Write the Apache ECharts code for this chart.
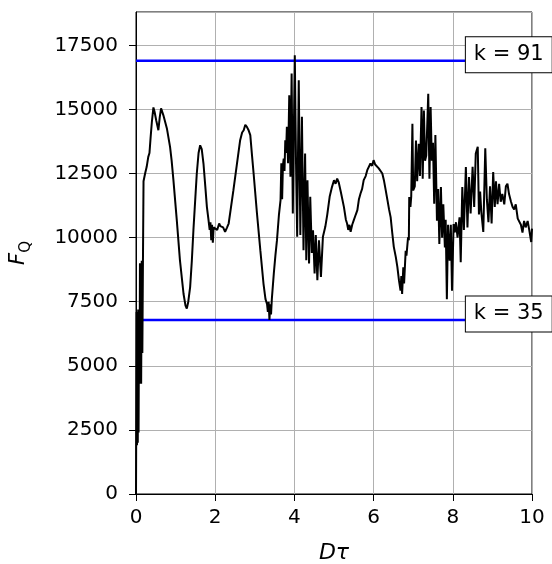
<!DOCTYPE html>
<html><head><meta charset="utf-8">
<script src="https://cdn.jsdelivr.net/npm/echarts@6/dist/echarts.min.js"></script>
<style>html,body{margin:0;padding:0;background:#fff}#c{width:552px;height:564px}</style>
</head><body><div id="c"></div>
<script>
// x ticks / y ticks
const xTickValues = [0, 2, 4, 6, 8, 10];
const yTickValues = [0, 2500, 5000, 7500, 10000, 12500, 15000, 17500];

// F_Q vs D·tau, in segments [tau, F_Q]
const segStart = [[0,0],[0.015,7100],[0.025,1900],[0.035,7000],[0.045,2000],[0.055,7200],[0.065,2400],[0.075,6500],[0.09,4300],[0.10,9000],[0.11,4400],[0.12,8800],[0.13,4300],[0.145,9100],[0.16,5500],[0.175,9000],[0.19,12200]];
const segWave1 = [[0.23,12500],[0.27,12760],[0.31,13150],[0.34,13300],[0.37,13930],[0.40,14500],[0.44,15080],[0.47,14900],[0.51,14580],[0.565,14190],[0.60,14700],[0.633,15040],[0.69,14780],[0.78,14260],[0.86,13540],[0.90,13000],[0.945,12240],[1.03,10680],[1.11,9115],[1.20,7810],[1.25,7350],[1.283,7230],[1.32,7500],[1.367,8070],[1.41,9100],[1.45,10290],[1.535,12500],[1.58,13300],[1.62,13600],[1.66,13450],[1.704,12890],[1.75,12000],[1.79,11200],[1.83,10700],[1.86,10300],[1.88,10600],[1.90,9900],[1.92,10500],[1.94,9800],[1.96,10400],[2.0,10420],[2.05,10300],[2.1,10550],[2.13,10450],[2.2,10400],[2.25,10220],[2.3,10400],[2.34,10550],[2.40,11200],[2.46,11850],[2.55,12890],[2.63,13800],[2.68,14100],[2.72,14190],[2.76,14400],[2.80,14320],[2.84,14200],[2.886,14000],[2.93,13200],[2.97,12500],[3.055,10940],[3.14,9500],[3.22,8200],[3.27,7600],[3.31,7400],[3.33,7100],[3.35,7500],[3.37,6790],[3.39,7400],[3.41,7000],[3.43,7600],[3.48,8600],[3.52,9300],[3.56,9900],[3.61,10900],[3.65,11460]];
const segBurst1 = [[3.67,12900],[3.69,11500],[3.71,12800],[3.73,13080],[3.75,12600],[3.77,13800],[3.79,13300],[3.81,14320],[3.84,12900],[3.87,15550],[3.90,12370],[3.93,16400],[3.96,10940],[4.01,17110],[4.04,13000],[4.07,10030],[4.11,16140],[4.15,10100],[4.19,14710],[4.23,9510],[4.27,13280],[4.30,9120],[4.33,12240],[4.37,8990],[4.40,11590],[4.44,9400],[4.47,10290],[4.51,8600],[4.54,10100],[4.58,8340],[4.62,9900],[4.67,8470],[4.72,10030],[4.78,10420],[4.83,10900],[4.89,11590],[4.95,11980],[5.0,12240],[5.04,12100],[5.08,12300]];
const segWave2 = [[5.12,12150],[5.17,11800],[5.25,11200],[5.30,10700],[5.33,10550],[5.36,10300],[5.39,10500],[5.42,10230],[5.46,10500],[5.50,10680],[5.55,10900],[5.59,11070],[5.63,11500],[5.67,11720],[5.71,11900],[5.75,12240],[5.80,12400],[5.84,12630],[5.88,12700],[5.92,12890],[5.96,12800],[6.0,13020],[6.04,12850],[6.09,12890],[6.13,12700],[6.18,12630],[6.22,12500],[6.26,12240],[6.30,11900],[6.35,11460],[6.39,11100],[6.43,10800],[6.47,10200],[6.51,9640],[6.56,9250],[6.60,8860],[6.64,8340],[6.68,7930],[6.70,8500],[6.72,7800],[6.75,8840],[6.77,8210],[6.81,9490],[6.83,9300],[6.87,10010],[6.89,9900]];
const segBurst2 = [[6.90,11580],[6.93,11200],[6.95,11600],[6.98,14440],[7.00,11840],[7.04,12000],[7.07,13790],[7.10,12200],[7.14,13660],[7.17,12400],[7.21,15090],[7.24,12300],[7.27,14960],[7.30,13000],[7.33,13200],[7.38,15610],[7.41,12300],[7.44,15090],[7.47,13000],[7.50,13700],[7.53,11320],[7.56,14000],[7.60,10660],[7.63,11900],[7.66,9750],[7.70,11970],[7.73,10000],[7.76,11300],[7.80,9620],[7.82,10700],[7.85,7600],[7.88,10500],[7.92,9100],[7.95,10500],[7.98,7930],[8.02,10530],[8.05,10200],[8.08,10600],[8.12,10000],[8.17,10790],[8.20,9040],[8.24,11970],[8.28,10300],[8.33,12750],[8.37,10400],[8.41,12360]];
const segTail = [[8.45,10940],[8.50,12760],[8.54,11200],[8.58,13280],[8.63,13540],[8.66,10900],[8.69,11800],[8.72,11000],[8.77,10220],[8.82,13480],[8.86,11500],[8.90,10600],[8.94,12000],[8.98,10550],[9.02,12560],[9.06,11200],[9.09,12200],[9.13,11300],[9.17,12100],[9.21,11400],[9.25,11700],[9.30,11300],[9.34,12000],[9.38,12100],[9.42,11700],[9.47,11400],[9.51,11200],[9.55,11100],[9.59,11300],[9.64,10740],[9.68,10800],[9.72,10500],[9.76,10200],[9.80,10650],[9.84,10400],[9.89,10650],[9.93,10300],[9.98,9830],[10.0,10350]];

// horizontal reference levels
const kLabels = ['k = 91', 'k = 35'];
const kValues = [16900, 6790];
const kLabelTau = 8.33;

const fq = [].concat(segStart, segWave1, segBurst1, segWave2, segBurst2, segTail);

const FONT = 'DejaVu Sans';
const chart = echarts.init(document.getElementById('c'), null, {renderer: 'canvas'});

const kSeries = kValues.map((v, i) => ({
  type: 'line',
  data: [[xTickValues[0], v], [xTickValues[xTickValues.length - 1], v]],
  symbol: 'none',
  z: 2,
  lineStyle: {color: '#0000ff', width: 2.5},
  silent: true,
  markPoint: {
    symbol: 'rect', symbolSize: 0,
    data: [{coord: [kLabelTau, v], value: kLabels[i]}],
    label: {
      show: true, position: [0, -23.5], formatter: kLabels[i],
      fontFamily: FONT, fontSize: 21, lineHeight: 23, color: '#000',
      backgroundColor: '#fff', borderColor: '#000', borderWidth: 1,
      padding: [6, 8, 6, 8]
    }
  }
}));

chart.setOption({
  animation: false,
  backgroundColor: '#fff',
  grid: {left: 136, right: 20, top: 12, bottom: 70, outerBoundsMode: 'none', containLabel: false,
    show: true, borderColor: '#000', borderWidth: 1, backgroundColor: 'transparent'},
  xAxis: {
    type: 'value', min: 0, max: 10, interval: 2,
    name: 'Dτ', nameLocation: 'middle', nameGap: 48,
    nameTextStyle: {fontFamily: FONT, fontSize: 22, fontStyle: 'italic', color: '#000'},
    axisLine: {show: true, lineStyle: {color: '#000', width: 1}},
    axisTick: {show: true, length: 7, lineStyle: {color: '#000', width: 1}},
    axisLabel: {fontFamily: FONT, fontSize: 20, color: '#000', margin: 14,
      formatter: v => xTickValues.includes(v) ? String(v) : ''},
    splitLine: {show: true, lineStyle: {color: '#b0b0b0', width: 1}}
  },
  yAxis: {
    type: 'value', min: 0, max: 18800, interval: 2500,
    name: '{f|F}{q|Q}', nameLocation: 'middle', nameGap: 102, nameRotate: 90,
    nameTextStyle: {
      color: '#000',
      rich: {
        f: {fontFamily: FONT, fontSize: 21, fontStyle: 'italic', lineHeight: 30, verticalAlign: 'middle', color: '#000'},
        q: {fontFamily: FONT, fontSize: 15, lineHeight: 9, verticalAlign: 'bottom', color: '#000'}
      }
    },
    axisLine: {show: true, lineStyle: {color: '#000', width: 1}},
    axisTick: {show: true, length: 7, lineStyle: {color: '#000', width: 1}},
    axisLabel: {fontFamily: FONT, fontSize: 20, color: '#000', margin: 18, showMaxLabel: false,
      formatter: v => yTickValues.includes(v) ? String(v) : ''},
    splitLine: {show: true, lineStyle: {color: '#b0b0b0', width: 1}}
  },
  series: [
    ...kSeries,
    {
      type: 'line', data: fq, symbol: 'none', z: 3, silent: true,
      lineStyle: {color: '#000', width: 2}
    }
  ]
});
</script>
</body></html>
